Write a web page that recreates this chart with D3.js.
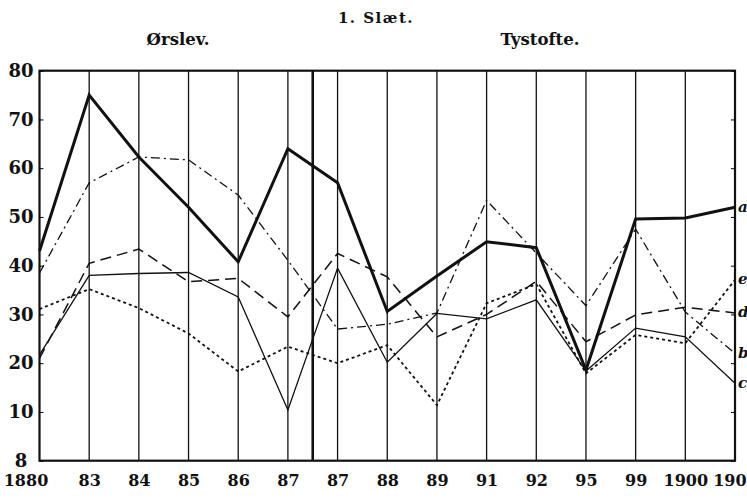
<!DOCTYPE html>
<html lang="da">
<head>
<meta charset="UTF-8">
<title>1. Slæt</title>
<script src="https://d3js.org/d3.v7.min.js"></script>
<style>
  body { margin: 0; background: #fff; }
  svg { display: block; }
  text { font-family: "DejaVu Serif", serif; font-weight: bold; fill: #111; }
</style>
</head>
<body>
<script>
// categories (two 87 columns, one each side of the heavy separator)
const years = ["1880", "83", "84", "85", "86", "87", "87", "88", "89", "91", "92", "95", "99", "1900", "1901"];
const yTicks = [0, 10, 20, 30, 40, 50, 60, 70, 80];
const yTickLabels = ["8", "10", "20", "30", "40", "50", "60", "70", "80"];

// series
const seriesA = [43, 75, 62.3, 52, 40.8, 64, 57, 30.6, 37.9, 44.9, 43.7, 18.6, 49.6, 49.8, 52];
const seriesB = [38.5, 57, 62.3, 61.7, 54.5, 41.1, 27, 28, 30.3, 53.4, 42.6, 31.8, 47.5, 30.5, 22];
const seriesC = [21.7, 38, 38.4, 38.6, 33.6, 10.4, 39.5, 20.2, 30.2, 29.1, 33, 18.4, 27.2, 25.4, 15.9];
const seriesD = [21, 40.5, 43.4, 36.7, 37.4, 29.5, 42.5, 37.7, 25.4, 30, 36.8, 24.4, 29.9, 31.5, 30.3];
const seriesE = [31.1, 35.2, 31.3, 26.1, 18.3, 23.4, 20, 23.7, 11.4, 32.3, 36.2, 17.9, 25.8, 24.1, 37.1];
const seriesNames = ["a", "b", "c", "d", "e"];
const separatorAt = 5.5;

const width = 747, height = 502;
const mLeft = 39.5, mRight = 735, mTop = 70.7, mBottom = 460.7;

const svg = d3.select("body").append("svg")
  .attr("width", width)
  .attr("height", height);

const x = d3.scaleLinear().domain([0, years.length - 1]).range([mLeft, mRight]);
const y = d3.scaleLinear().domain([0, 80]).range([mBottom, mTop]);

// titles
svg.append("text").attr("x", 376).attr("y", 23).attr("text-anchor", "middle")
  .style("font-size", "15px").style("letter-spacing", "1.5px").text("1. Slæt.");
svg.append("text").attr("x", 178).attr("y", 45).attr("text-anchor", "middle")
  .style("font-size", "16.5px").text("Ørslev.");
svg.append("text").attr("x", 540).attr("y", 45).attr("text-anchor", "middle")
  .style("font-size", "16.5px").text("Tystofte.");

// vertical column lines
svg.append("g").selectAll("line")
  .data(d3.range(1, years.length - 1))
  .join("line")
  .attr("x1", d => x(d)).attr("x2", d => x(d))
  .attr("y1", mTop).attr("y2", mBottom)
  .attr("stroke", "#111").attr("stroke-width", 1.3);

svg.append("line")
  .attr("x1", x(separatorAt)).attr("x2", x(separatorAt))
  .attr("y1", mTop).attr("y2", mBottom)
  .attr("stroke", "#111").attr("stroke-width", 2.6);

// frame
svg.append("rect")
  .attr("x", mLeft).attr("y", mTop)
  .attr("width", mRight - mLeft).attr("height", mBottom - mTop)
  .attr("fill", "none").attr("stroke", "#111").attr("stroke-width", 2.2);

// small inner ticks on left and right edges
svg.append("g").attr("transform", `translate(${mLeft},0)`)
  .call(d3.axisRight(y).tickValues(yTicks).tickSize(4).tickFormat(""))
  .call(g => g.select(".domain").remove());
svg.append("g").attr("transform", `translate(${mRight},0)`)
  .call(d3.axisLeft(y).tickValues(yTicks).tickSize(4).tickFormat(""))
  .call(g => g.select(".domain").remove());

// y axis labels
const yAxis = svg.append("g").attr("transform", "translate(21,0)")
  .call(d3.axisLeft(y).tickValues(yTicks).tickSize(0).tickPadding(0)
    .tickFormat((d, i) => yTickLabels[i]));
yAxis.select(".domain").remove();
yAxis.selectAll("text")
  .attr("text-anchor", "middle")
  .style("font-size", "18px")
  .style("font-family", "DejaVu Serif, serif")
  .attr("fill", "#111");

// x axis labels
const xAxis = svg.append("g").attr("transform", `translate(0,${mBottom})`)
  .call(d3.axisBottom(x).tickValues(d3.range(years.length)).tickSize(0).tickPadding(14)
    .tickFormat(i => years[i]));
xAxis.select(".domain").remove();
xAxis.selectAll("text")
  .style("font-size", "16px")
  .style("font-family", "DejaVu Serif, serif")
  .attr("fill", "#111")
  .attr("dx", (d, i) => i === 0 ? -14 : 0);

// series lines
const styles = {
  a: { w: 3, dash: null },
  b: { w: 1.3, dash: "9,4,2,4" },
  c: { w: 1.3, dash: null },
  d: { w: 1.5, dash: "11,6" },
  e: { w: 1.8, dash: "3,3" }
};
const allSeries = [seriesA, seriesB, seriesC, seriesD, seriesE];

const line = d3.line()
  .x((d, i) => x(i))
  .y(d => y(d));

svg.append("g").selectAll("path")
  .data(allSeries)
  .join("path")
  .attr("d", line)
  .attr("fill", "none")
  .attr("stroke", "#111")
  .attr("stroke-linejoin", "miter")
  .attr("stroke-width", (d, i) => styles[seriesNames[i]].w)
  .attr("stroke-dasharray", (d, i) => styles[seriesNames[i]].dash);

// end letters
svg.append("g").selectAll("text")
  .data(allSeries)
  .join("text")
  .attr("x", mRight + 3)
  .attr("y", d => y(d[d.length - 1]))
  .attr("dy", "0.3em")
  .style("font-size", "15px")
  .style("font-style", "italic")
  .text((d, i) => seriesNames[i]);
</script>
</body>
</html>
